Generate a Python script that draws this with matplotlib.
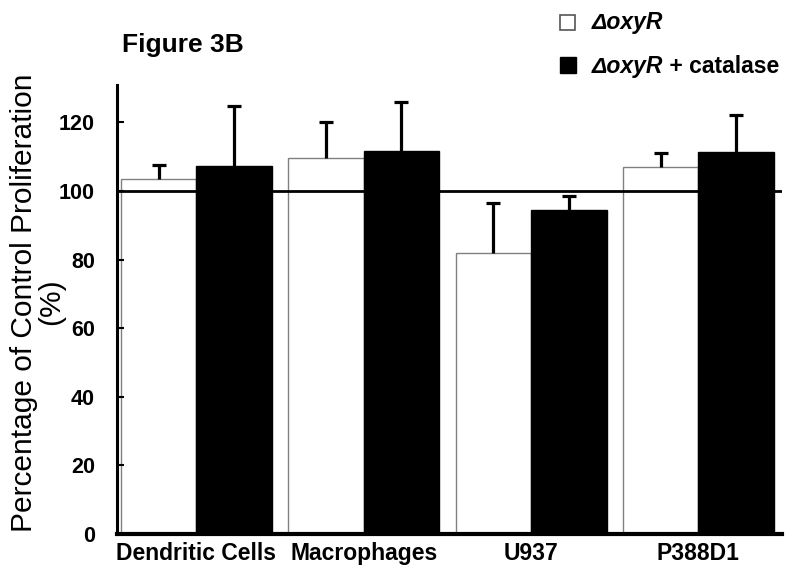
import matplotlib.pyplot as plt
import numpy as np

plt.rcParams["font.family"] = ["Liberation Sans", "DejaVu Sans"]

CATEGORIES = ["Dendritic Cells", "Macrophages", "U937", "P388D1"]
OXYR = [103.5, 109.6, 81.8, 106.9]
OXYR_ERR = [4.0, 10.5, 14.6, 4.1]
CATALASE = [107.2, 111.6, 94.5, 111.3]
CATALASE_ERR = [17.5, 14.3, 4.1, 10.9]
Y_TICKS = [0, 20, 40, 60, 80, 100, 120]

WIDTH = 0.451


def upper_errorbar(ax, x, y, err, zorder):
    """Error bars pointing up only (no cap at the bar top)."""
    _, caps, _ = ax.errorbar(x, y, yerr=[np.zeros(len(err)), err], fmt="none",
                             ecolor="black", elinewidth=2.3, capsize=5,
                             capthick=2.3, zorder=zorder)
    caps[0].set_visible(False)


def main() -> None:
    fig = plt.figure(figsize=(8, 5.79), dpi=100)
    ax = fig.add_axes([0.14625, 0.0777, 0.83125, 0.776])

    x = np.arange(len(CATEGORIES))
    ax.bar(x - WIDTH / 2, OXYR, WIDTH, color="white", edgecolor="#808080",
           linewidth=1.0, zorder=1)
    upper_errorbar(ax, x - WIDTH / 2, OXYR, OXYR_ERR, 2)
    ax.bar(x + WIDTH / 2, CATALASE, WIDTH, color="black", edgecolor="black",
           linewidth=1.0, zorder=3)
    upper_errorbar(ax, x + WIDTH / 2, CATALASE, CATALASE_ERR, 4)
    ax.axhline(100, color="black", linewidth=2.0, zorder=2.5)

    ax.set_xlim(-0.475, 3.5)
    ax.set_ylim(0, 131)
    ax.set_yticks(Y_TICKS)
    ax.set_xticks(x)
    ax.set_xticklabels(CATEGORIES, fontsize=16.5, fontweight="bold")
    ax.tick_params(axis="x", length=0, pad=6)
    ax.tick_params(axis="y", direction="in", length=5, width=1.5, pad=16,
                   labelsize=15.5)
    for lbl in ax.get_yticklabels():
        lbl.set_fontweight("bold")

    for side in ("top", "right"):
        ax.spines[side].set_visible(False)
    ax.spines["left"].set_linewidth(2.2)
    ax.spines["bottom"].set_linewidth(3)

    # two-line y label, lines placed separately (tight line spacing)
    ax.set_ylabel("Percentage of Control Proliferation", fontsize=21.5,
                  va="center")
    ax.yaxis.set_label_coords(-0.1394, 0.515)
    ax.text(-0.0991, 0.517, "(%)", transform=ax.transAxes, rotation=90,
            ha="center", va="center", fontsize=21.5)

    fig.text(122 / 800, 1 - 52 / 579, "Figure 3B", fontsize=19,
             fontweight="bold")

    # legend drawn by hand so the italic/upright mix matches
    fig.add_artist(plt.Rectangle(
        (560 / 800, 1 - 30 / 579), 15 / 800, 15 / 579, transform=fig.transFigure,
        facecolor="white", edgecolor="#555555", linewidth=1.2))
    fig.add_artist(plt.Rectangle(
        (560 / 800, 1 - 73 / 579), 16 / 800, 16 / 579, transform=fig.transFigure,
        facecolor="black", edgecolor="black", linewidth=1.0))
    fig.text(592 / 800, 1 - 29 / 579, "\u0394oxyR", fontsize=16.5,
             fontweight="bold", style="italic")
    t2 = fig.text(592 / 800, 1 - 73 / 579, "\u0394oxyR", fontsize=16.5,
                  fontweight="bold", style="italic")
    fig.add_artist(plt.Annotation(" + catalase", xy=(1, 0), xycoords=t2,
                                  fontsize=16.5, fontweight="bold",
                                  va="bottom"))

    fig.savefig("out.png", dpi=100)


if __name__ == "__main__":
    main()
